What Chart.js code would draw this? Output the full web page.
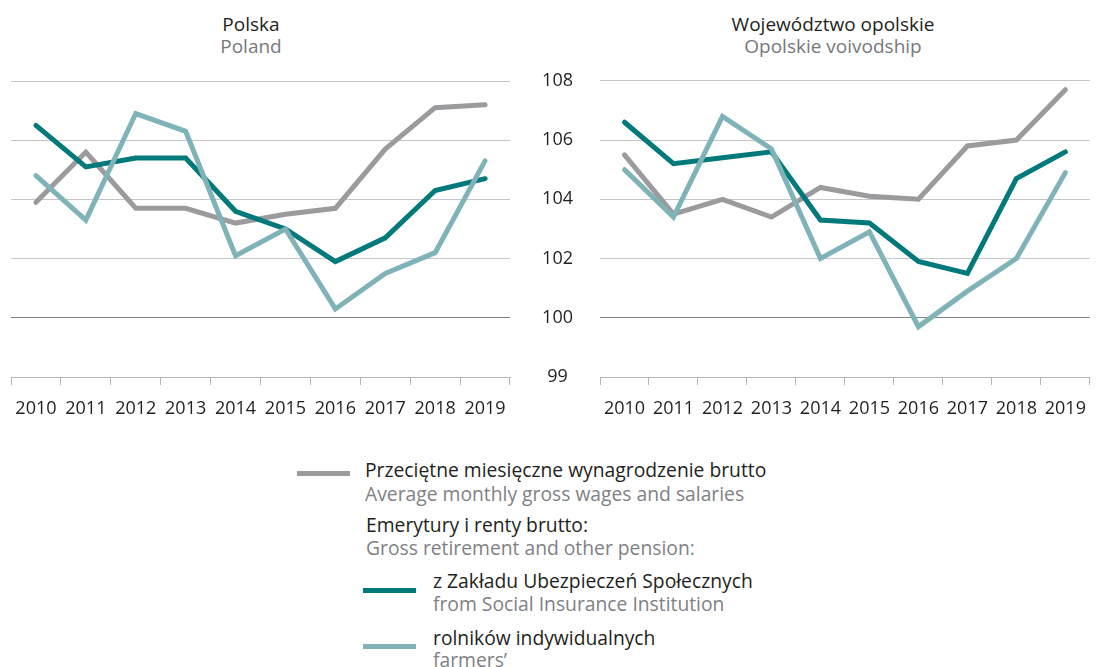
<!DOCTYPE html>
<html>
<head>
<meta charset="utf-8">
<script src="https://cdn.jsdelivr.net/npm/chart.js@4"></script>
<style>
    body { margin: 0; background: #fff; font-family: "Open Sans", sans-serif; }
    #page { position: relative; width: 1099px; height: 667px; overflow: hidden; }
    .box { position: absolute; }
    .t1 { position: absolute; font-size: 19px; color: #231f20; white-space: nowrap; transform: translate(-50%, -50%); }
    .t2 { position: absolute; font-size: 19px; color: #77787b; white-space: nowrap; transform: translate(-50%, -50%); }
    .lg1 { position: absolute; font-size: 19.3px; color: #231f20; white-space: nowrap; transform: translateY(-50%); }
    .lg2 { position: absolute; font-size: 19.3px; color: #808184; white-space: nowrap; transform: translateY(-50%); }
    .sw { position: absolute; height: 5px; width: 53px; }
</style>
</head>
<body>
<div id="page">
    <div class="t1" style="left:251px; top:24px;">Polska</div>
    <div class="t2" style="left:251px; top:46px;">Poland</div>
    <div class="t1" style="left:833px; top:24px;">Województwo opolskie</div>
    <div class="t2" style="left:833px; top:46px;">Opolskie voivodship</div>

    <div class="box" style="left:0px; top:60px; width:520px; height:370px;"><canvas id="grafic-pl"></canvas></div>
    <div class="box" style="left:530px; top:43px; width:569px; height:387px;"><canvas id="grafic-op"></canvas></div>

    <div class="sw" style="left:297px; top:471px; background:#9b9b9e;"></div>
    <div class="lg1" style="left:365px; top:469px;">Przeciętne miesięczne wynagrodzenie brutto</div>
    <div class="lg2" style="left:365px; top:493px;">Average monthly gross wages and salaries</div>
    <div class="lg1" style="left:366px; top:524px;">Emerytury i renty brutto:</div>
    <div class="lg2" style="left:366px; top:547px;">Gross retirement and other pension:</div>

    <div class="sw" style="left:363px; top:588px; background:#00797b;"></div>
    <div class="lg1" style="left:433px; top:580px;">z Zakładu Ubezpieczeń Społecznych</div>
    <div class="lg2" style="left:433px; top:603px;">from Social Insurance Institution</div>

    <div class="sw" style="left:363px; top:644px; background:#80b3b7;"></div>
    <div class="lg1" style="left:433px; top:637px;">rolników indywidualnych</div>
    <div class="lg2" style="left:433px; top:659px;">farmers’</div>
</div>

<script>
// data (previous year = 100)
const years = ['2010', '2011', '2012', '2013', '2014', '2015', '2016', '2017', '2018', '2019'];

const pl_wages  = [103.9, 105.6, 103.7, 103.7, 103.2, 103.5, 103.7, 105.7, 107.1, 107.2];
const pl_zus    = [106.5, 105.1, 105.4, 105.4, 103.6, 103.0, 101.9, 102.7, 104.3, 104.7];
const pl_krus   = [104.8, 103.3, 106.9, 106.3, 102.1, 103.0, 100.3, 101.5, 102.2, 105.3];

const op_wages  = [105.5, 103.5, 104.0, 103.4, 104.4, 104.1, 104.0, 105.8, 106.0, 107.7];
const op_zus    = [106.6, 105.2, 105.4, 105.6, 103.3, 103.2, 101.9, 101.5, 104.7, 105.6];
const op_krus   = [105.0, 103.4, 106.8, 105.7, 102.0, 102.9, 99.7, 100.9, 102.0, 104.9];

// axis is broken below 100: bottom tick shows 99
const y_ticks  = [98, 100, 102, 104, 106, 108];
const y_labels = ['99', '100', '102', '104', '106', '108'];

const c_wages = '#9b9b9e';
const c_zus = '#00797b';
const c_krus = '#80b3b7';
const font_base = { family: "'Open Sans', sans-serif", size: 18 };

function make_datasets(wages, zus, krus) {
    const line = (data, color, order) => ({
        data: data,
        borderColor: color,
        backgroundColor: color,
        borderWidth: 5,
        pointRadius: 0,
        tension: 0,
        borderCapStyle: 'round',
        order: order
    });
    return [line(wages, c_wages, 2), line(zus, c_zus, 1), line(krus, c_krus, 0)];
}

function create_grafic(id, wages, zus, krus, show_labels) {
    const ctx = document.getElementById(id);
    const config = {
        type: 'line',
        data: { labels: years, datasets: make_datasets(wages, zus, krus) },
        options: {
            responsive: true,
            maintainAspectRatio: false,
            animation: false,
            layout: { padding: { left: show_labels ? 0 : 11, right: show_labels ? 1 : 10, top: show_labels ? 0 : 21, bottom: 0 } },
            plugins: { legend: { display: false }, tooltip: { enabled: false } },
            scales: {
                x: {
                    offset: true,
                    grid: {
                        offset: true,
                        drawOnChartArea: false,
                        drawTicks: true,
                        tickLength: 8,
                        color: '#b5b5b7'
                    },
                    border: { display: true, color: '#b5b5b7', width: 1 },
                    ticks: { color: '#231f20', font: font_base, padding: 13, maxRotation: 0, autoSkip: false },
                    afterFit: (s) => { s.height = 53; }
                },
                y: {
                    min: 98,
                    max: 108,
                    afterBuildTicks: (s) => { s.ticks = y_ticks.map(v => ({ value: v })); },
                    grid: {
                        drawTicks: false,
                        lineWidth: 1,
                        color: (c) => {
                            if (c.tick.value === 98) return 'rgba(0,0,0,0)';
                            if (c.tick.value === 100) return '#808080';
                            return '#c6c6c8';
                        }
                    },
                    border: { display: false },
                    ticks: {
                        display: show_labels,
                        color: '#231f20',
                        font: font_base,
                        crossAlign: 'center',
                        padding: 27,
                        callback: (v) => y_labels[y_ticks.indexOf(v)]
                    },
                    afterFit: (s) => { s.width = show_labels ? 70 : 0; }
                }
            }
        }
    };
    return new Chart(ctx, config);
}

create_grafic('grafic-pl', pl_wages, pl_zus, pl_krus, false);
create_grafic('grafic-op', op_wages, op_zus, op_krus, true);
</script>
</body>
</html>
